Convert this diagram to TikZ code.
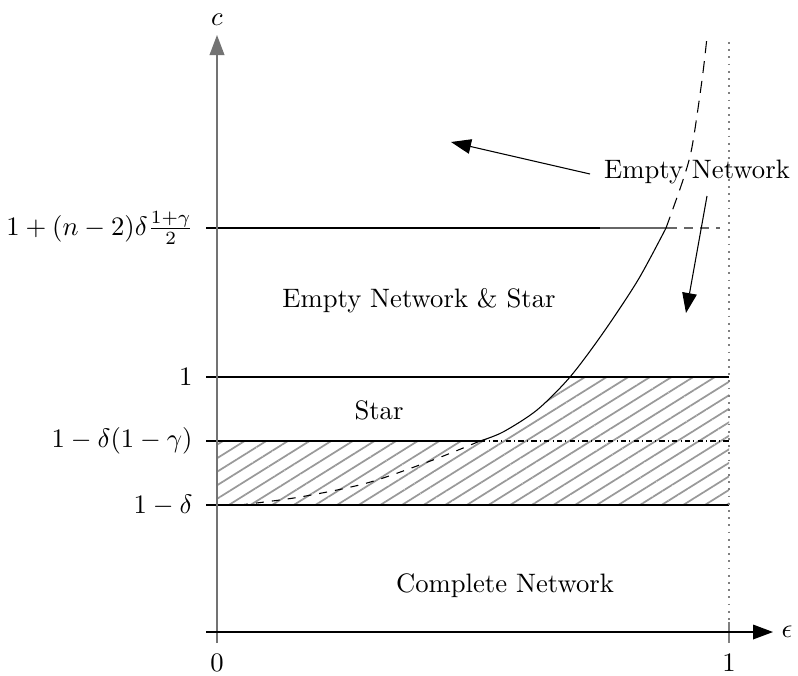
\documentclass[tikz,border=0pt]{standalone}
\usetikzlibrary{arrows.meta,patterns.meta}
\begin{document}
\begin{tikzpicture}[x=0.375pt,y=-0.375pt,
  tip/.style={-{Triangle[length=7.5pt,width=5.5pt]}},
  ylab/.style={anchor=east,inner sep=0pt},
  region/.style={inner sep=0pt},
  hatch/.style={pattern={Lines[angle=32,distance=4.3pt,line width=0.65pt]},pattern color=black!40}
]
\useasboundingbox (0,0) rectangle (798,675);
% hatched region
\fill[hatch] (217,505) -- (729,505) -- (729,377) -- (570,377)
  -- plot[smooth] coordinates {(570,377)(537,410)(503,432)(480,441)}
  -- (217,441) -- cycle;
% coordinates
\coordinate (ybot) at (217,643);
\coordinate (ytop) at (217,35);
\coordinate (xl) at (206,632);
\coordinate (xr) at (773,632);
\coordinate (t1a) at (729,622);
\coordinate (t1b) at (729,643);
\coordinate (dtop) at (729,42);
% horizontal levels
\coordinate (l1a) at (206,505); \coordinate (l1b) at (729,505);
\coordinate (l2a) at (206,441); \coordinate (l2m) at (480,441); \coordinate (l2b) at (729,441);
\coordinate (l3a) at (206,377); \coordinate (l3b) at (729,377);
\coordinate (l4a) at (206,228); \coordinate (l4m) at (600,228); \coordinate (l4n) at (668,228); \coordinate (l4b) at (720,228);
\draw[line width=0.4pt] (l1a) -- (l1b);
\draw[line width=0.4pt] (l3a) -- (l3b);
\draw[line width=0.4pt] (l2a) -- (l2m);
\draw[line width=0.4pt,dash pattern=on 2pt off 1.2pt on 0.4pt off 1.2pt] (l2m) -- (l2b);
\draw[line width=0.4pt] (l4a) -- (l4m);
\draw[line width=0.4pt,black!60] (l4m) -- (l4n);
\draw[line width=0.4pt,black!60,dash pattern=on 3.5pt off 2.5pt] (l4n) -- (l4b);
% vertical dotted at 1
\draw[black!50,line width=0.7pt,dotted] (dtop) -- (t1a);
\draw[black!50,line width=0.5pt] (t1a) -- (t1b);
% curve
\draw[line width=0.4pt,dashed] plot[smooth] coordinates {(240,505)(300,497)(367,483)(433,460)(480,441)};
\draw[line width=0.4pt] plot[smooth] coordinates {(480,441)(503,432)(537,410)(570,377)(603,333)(638,280)(666,228)};
\draw[line width=0.4pt,dash pattern=on 4.5pt off 3pt] plot[smooth] coordinates {(666,228)(683,180)(692,147)(702,80)(707,37)};
% axes
\draw[black!55,line width=0.6pt,tip] (ybot) -- (ytop);
\draw[line width=0.5pt,tip] (xl) -- (xr);
\node (c) at (217,20) {$c$};
\node (eps) at (787,632) {$\epsilon$};
\node (x0) at (217,663) {$0$};
\node (x1) at (729,663) {$1$};
% y labels
\node[ylab] (y4) at (194,228) {$1+(n-2)\delta\frac{1+\gamma}{2}$};
\node[ylab] (y3) at (193,377) {$1$};
\node[ylab] (y2) at (193,441) {$1-\delta(1-\gamma)$};
\node[ylab] (y1) at (193,505) {$1-\delta$};
% region labels
\node (ens) at (419,301) {Empty Network \& Star};
\node (st) at (379,410) {Star};
\node (cn) at (505,586) {Complete Network};
\node (en) at (697,172) {Empty Network};
\coordinate (a1s) at (590,174);
\coordinate (a1e) at (451,142);
\coordinate (a2s) at (707,196);
\coordinate (a2e) at (686,313);
\draw[line width=0.4pt,tip] (a1s) -- (a1e);
\draw[line width=0.4pt,tip] (a2s) -- (a2e);
\end{tikzpicture}
\end{document}
